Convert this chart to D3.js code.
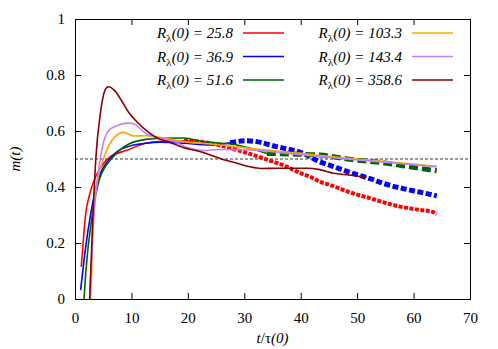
<!DOCTYPE html>
<html>
<head>
<meta charset="utf-8">
<script src="https://cdn.jsdelivr.net/npm/d3@7"></script>
<style>
  body { margin: 0; background: #fff; }
  svg text { font-family: 'Liberation Serif', 'Times New Roman', Times, 'DejaVu Serif', serif !important; }
</style>
</head>
<body>
<div id="container"></div>
<script>
// data: t/tau(0) and m(t) for each run
const labels = ['25.8', '36.9', '51.6', '103.3', '143.4', '358.6'];

const t258 = [1.1, 1.4, 1.9, 2.5, 3.4, 4.3, 6.0, 9.3, 12.5, 15.2, 19.3, 22, 25, 28.7, 31, 33.4, 37.5, 39.9, 41.6, 43.4, 45.2, 49.3, 52.3, 55.2, 57.6, 60.5, 63.5, 64.1];
const m258 = [0.115, 0.19, 0.306, 0.366, 0.425, 0.461, 0.504, 0.532, 0.556, 0.563, 0.565, 0.562, 0.552, 0.532, 0.518, 0.502, 0.473, 0.45, 0.437, 0.419, 0.407, 0.377, 0.36, 0.342, 0.33, 0.32, 0.31, 0.303];

const t369 = [1.0, 1.9, 2.8, 4.1, 6.3, 9.3, 12.5, 15.2, 19.3, 23.9, 27.5, 30.4, 32.2, 35.7, 40.5, 43.4, 45.8, 49, 52.3, 54.6, 58, 61, 63.5, 64.1];
const m369 = [0.032, 0.187, 0.306, 0.425, 0.504, 0.544, 0.556, 0.560, 0.556, 0.55, 0.558, 0.565, 0.562, 0.544, 0.52, 0.49, 0.473, 0.45, 0.43, 0.413, 0.395, 0.382, 0.371, 0.368];

const t516 = [1.6, 1.9, 3.1, 4.3, 6.6, 8.7, 12.5, 15.2, 19.3, 22.7, 28.7, 34, 38, 43.4, 48.7, 55.2, 60, 64.1];
const m516 = [0.0, 0.092, 0.306, 0.425, 0.504, 0.544, 0.57, 0.574, 0.575, 0.562, 0.55, 0.52, 0.518, 0.514, 0.499, 0.485, 0.47, 0.458];

const t1033 = [2.8, 2.95, 3.2, 4.0, 5.1, 6.5, 8.6, 10.5, 12.5, 15.2, 19.3, 25, 31, 40, 50, 57, 64.1];
const m1033 = [0.0, 0.104, 0.3, 0.425, 0.504, 0.565, 0.595, 0.582, 0.583, 0.577, 0.562, 0.552, 0.538, 0.52, 0.5, 0.487, 0.474];

const t1434 = [2.6, 3.4, 4.5, 5.9, 7.5, 9.5, 10.5, 12.5, 15.2, 16.8, 20.4, 22.7, 25.7, 31, 40, 50, 57, 64.1];
const m1434 = [0.0, 0.306, 0.504, 0.6, 0.62, 0.628, 0.625, 0.592, 0.574, 0.568, 0.538, 0.53, 0.534, 0.532, 0.515, 0.497, 0.485, 0.472];

const t3586 = [2.6, 3.2, 3.7, 4.5, 5.3, 5.9, 7, 8.2, 9.5, 11, 12.5, 14.5, 16.8, 19.3, 21, 23.5, 25.7, 28.7, 31, 33, 35.7, 38.7, 41.1, 43.4, 45.8, 48.5, 51.7];
const m3586 = [0.0, 0.306, 0.504, 0.663, 0.745, 0.758, 0.745, 0.71, 0.667, 0.632, 0.604, 0.576, 0.56, 0.54, 0.532, 0.518, 0.502, 0.485, 0.472, 0.466, 0.467, 0.467, 0.467, 0.462, 0.449, 0.443, 0.435];

// where the jagged part of each run starts
const jagStart = [21, 26, 34, 999, 999, 999];

const xTicks = [0, 10, 20, 30, 40, 50, 60, 70];
const yTicks = [0, 0.2, 0.4, 0.6, 0.8, 1];

const series = [
    { t: t258, m: m258, color: '#ff0000', jagW: 4, jagDash: '4,1.5' },
    { t: t369, m: m369, color: '#0000ff', jagW: 5, jagDash: '6,2.5' },
    { t: t516, m: m516, color: '#006400', jagW: 5, jagDash: '9,4' },
    { t: t1033, m: m1033, color: '#ffa500', jagW: 2, jagDash: null },
    { t: t1434, m: m1434, color: '#c080ff', jagW: 2, jagDash: null },
    { t: t3586, m: m3586, color: '#8b0000', jagW: 2, jagDash: null }
];

const W = 498, H = 349;
const mLeft = 75, mRight = 470, mTop = 19, mBottom = 299;

let viz = d3.select('#container')
    .append('svg')
    .attr('width', W)
    .attr('height', H)
    ;

let x = d3.scaleLinear().domain([0, 70]).range([mLeft, mRight]);
let y = d3.scaleLinear().domain([0, 1]).range([mBottom, mTop]);

viz.append('clipPath').attr('id', 'clip')
    .append('rect')
    .attr('x', mLeft).attr('y', mTop)
    .attr('width', mRight - mLeft).attr('height', mBottom - mTop);

// axes with ticks pointing inward on all four sides
viz.append('g')
    .attr('transform', 'translate(0,' + mBottom + ')')
    .call(d3.axisBottom(x).tickValues(xTicks).tickSize(-6).tickPadding(13).tickFormat(d3.format('d')));
viz.append('g')
    .attr('transform', 'translate(0,' + mTop + ')')
    .call(d3.axisTop(x).tickValues(xTicks).tickSize(-6).tickFormat(''));
viz.append('g')
    .attr('transform', 'translate(' + mLeft + ',0)')
    .call(d3.axisLeft(y).tickValues(yTicks).tickSize(-6).tickPadding(10).tickFormat(d => d === 0 || d === 1 ? d : d3.format('.1f')(d)));
viz.append('g')
    .attr('transform', 'translate(' + mRight + ',0)')
    .call(d3.axisRight(y).tickValues(yTicks).tickSize(-6).tickFormat(''));

viz.selectAll('g').attr('font-family', null);
viz.selectAll('.domain').attr('stroke', '#000');
viz.selectAll('.tick line').attr('stroke', '#000');
viz.selectAll('.tick text').attr('font-size', 15).attr('fill', '#000');

// m = 0.5 reference
viz.append('line')
    .attr('x1', mLeft).attr('x2', mRight)
    .attr('y1', y(0.5)).attr('y2', y(0.5))
    .attr('stroke', '#000')
    .attr('stroke-width', 0.8)
    .attr('stroke-dasharray', '3,2');

let line = d3.line()
    .x(d => x(d[0]))
    .y(d => y(d[1]))
    .curve(d3.curveMonotoneX);

let plot = viz.append('g').attr('clip-path', 'url(#clip)');

series.forEach(function (s, i) {
    let pts = s.t.map((t, k) => [t, s.m[k]]);
    let smooth = pts.filter(p => p[0] <= jagStart[i] + 2);
    let jag = pts.filter(p => p[0] >= jagStart[i] - 2);
    plot.append('path')
        .attr('d', line(smooth))
        .attr('fill', 'none')
        .attr('stroke', s.color)
        .attr('stroke-width', 1.6);
    if (jag.length > 1) {
        plot.append('path')
            .attr('d', line(jag))
            .attr('fill', 'none')
            .attr('stroke', s.color)
            .attr('stroke-width', s.jagW)
            .attr('stroke-dasharray', s.jagDash);
    }
});

// legend, two columns of three
let legend = viz.append('g');
series.forEach(function (s, i) {
    let col = Math.floor(i / 3), row = i % 3;
    let tx = col == 0 ? 233 : 402;
    let ty = 33 + row * 23.5;
    let txt = legend.append('text')
        .attr('x', tx).attr('y', ty + 5)
        .attr('text-anchor', 'end')
        .attr('font-size', 15)
        .attr('font-style', 'italic');
    txt.append('tspan').text('R');
    txt.append('tspan').attr('font-style', 'normal').attr('font-size', 11).attr('dy', 4).text('λ');
    txt.append('tspan').attr('dy', -4).text('(0) = ' + labels[i]);
    legend.append('line')
        .attr('x1', tx + 10).attr('x2', tx + 51)
        .attr('y1', ty).attr('y2', ty)
        .attr('stroke', s.color)
        .attr('stroke-width', 1.5);
});

// axis titles
let xl = viz.append('text')
    .attr('x', (mLeft + mRight) / 2).attr('y', 343)
    .attr('text-anchor', 'middle')
    .attr('font-size', 15);
xl.append('tspan').attr('font-style', 'italic').text('t');
xl.append('tspan').text('/τ');
xl.append('tspan').attr('font-style', 'italic').text('(0)');

let yl = viz.append('text')
    .attr('transform', 'translate(20,' + y(0.5) + ') rotate(-90)')
    .attr('text-anchor', 'middle')
    .attr('font-size', 15)
    .attr('font-style', 'italic')
    .text('m(t)');
</script>
</body>
</html>
